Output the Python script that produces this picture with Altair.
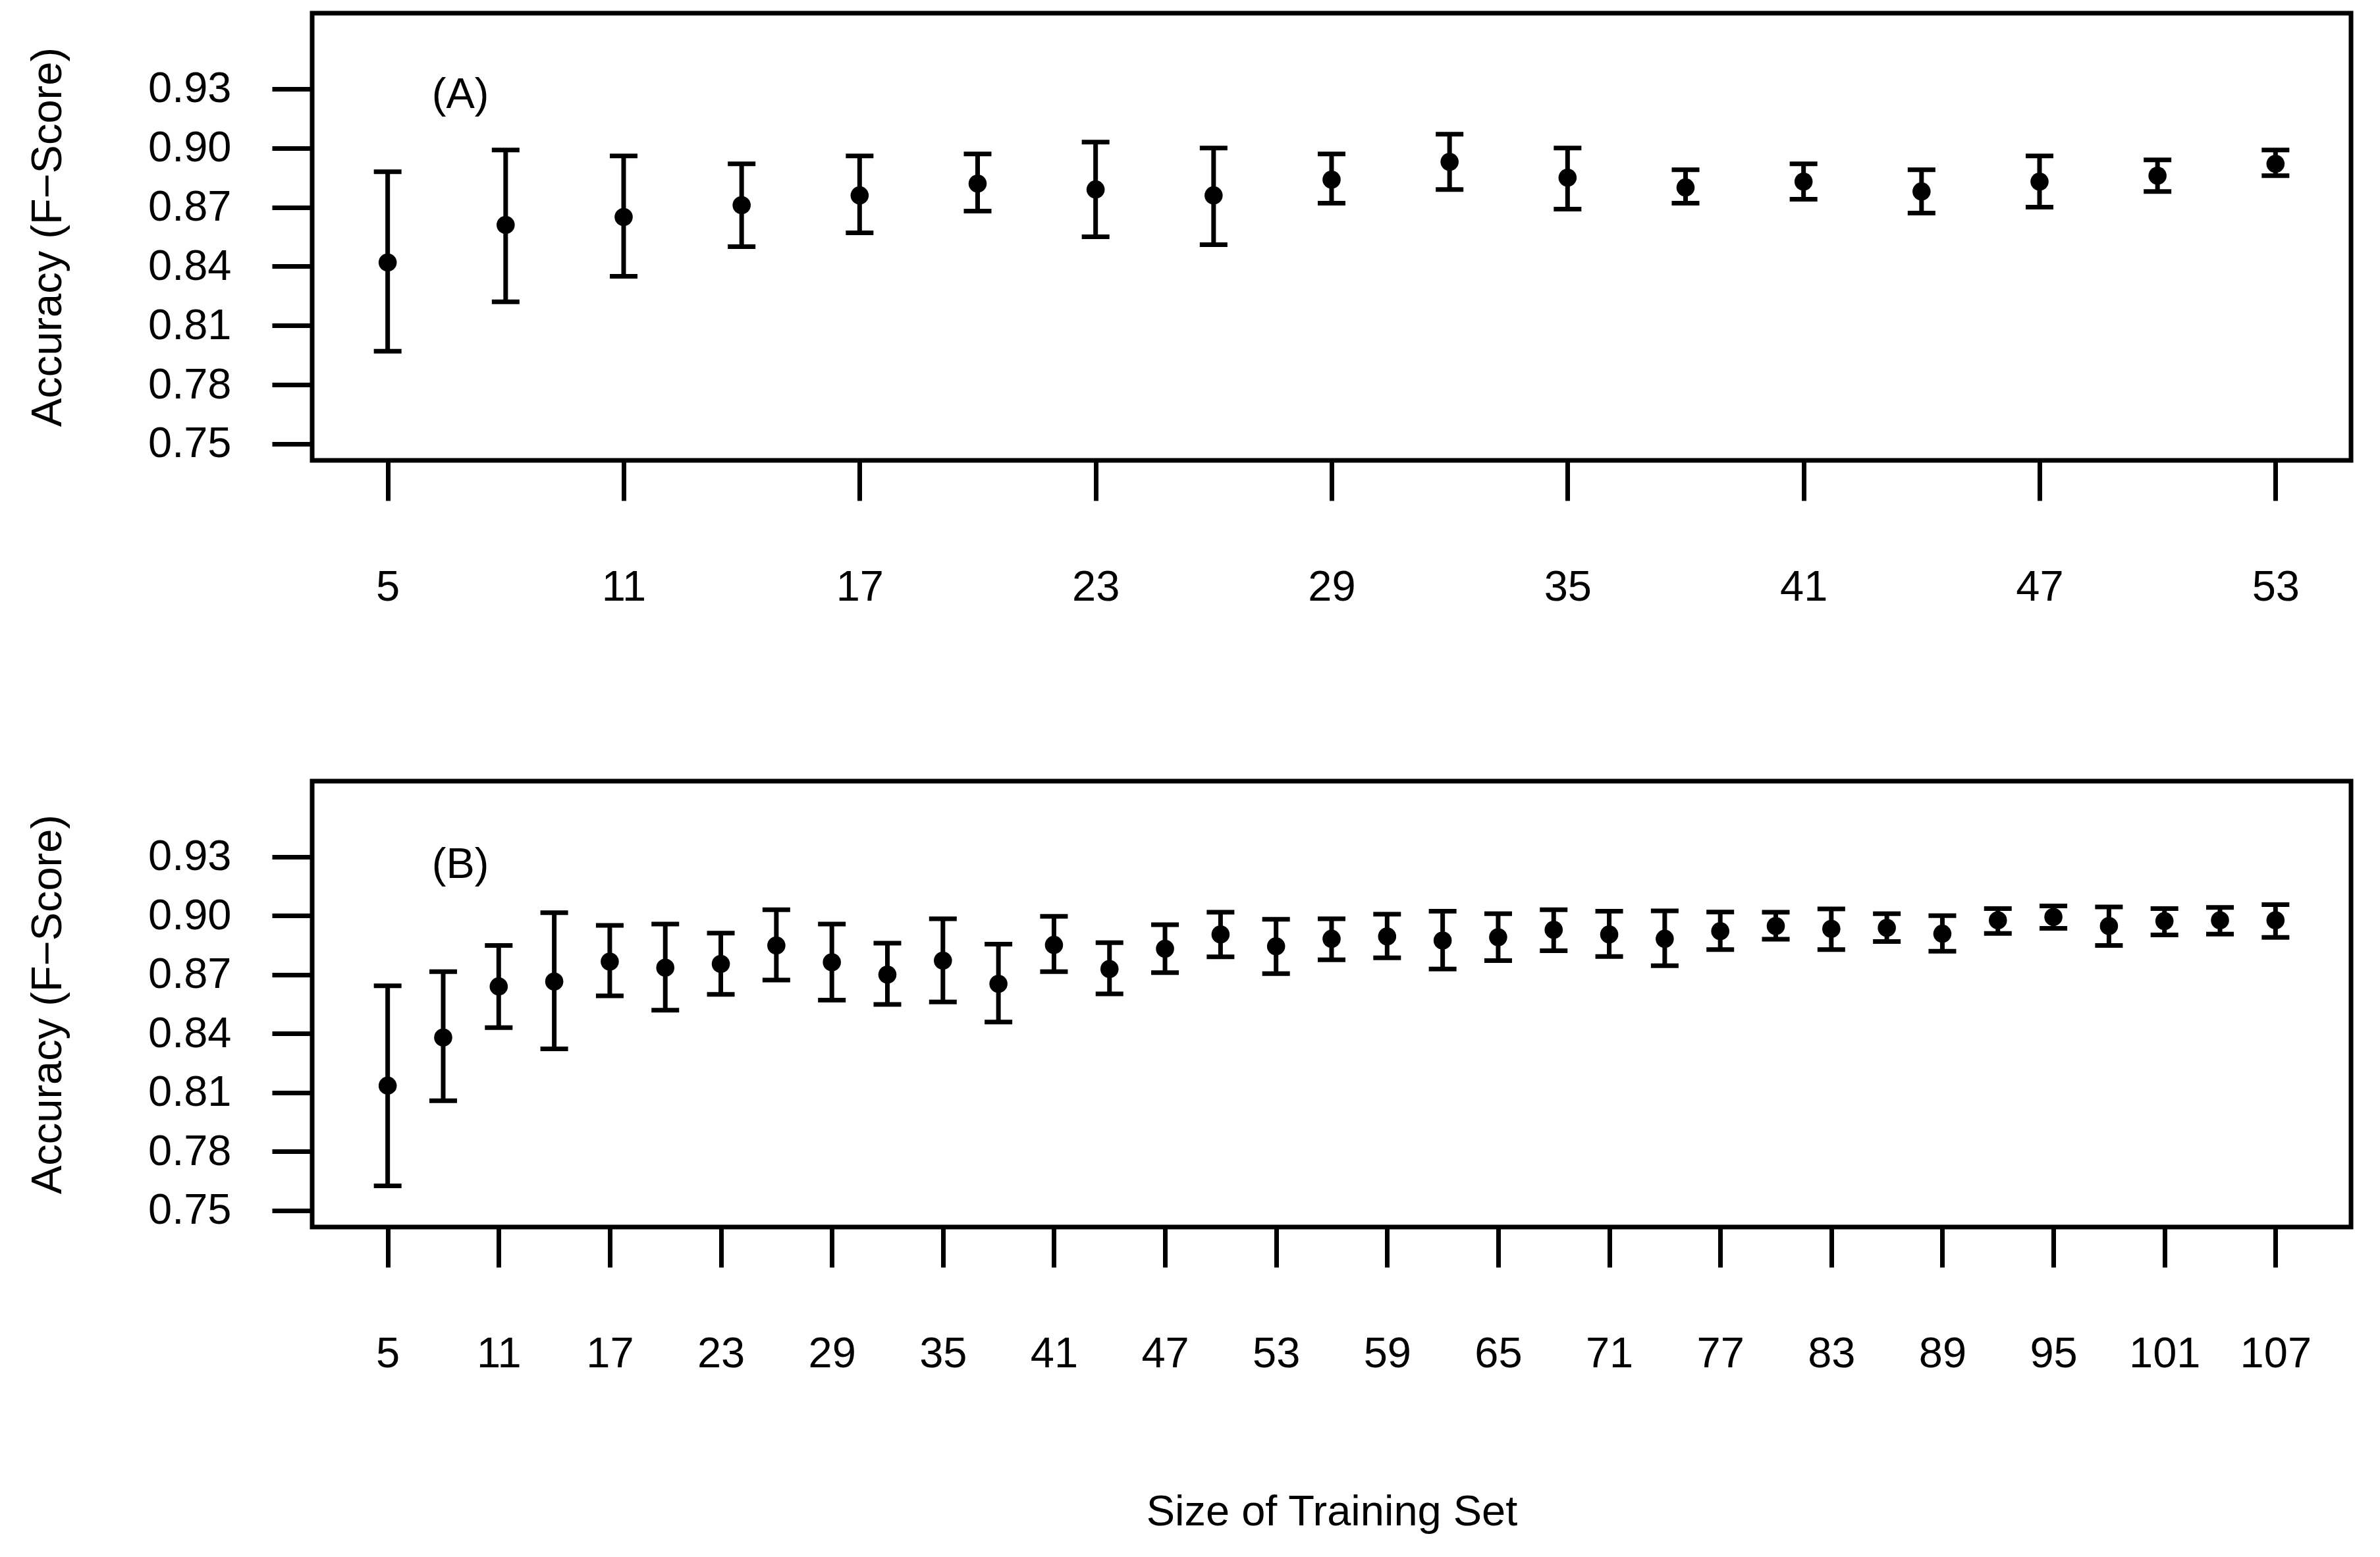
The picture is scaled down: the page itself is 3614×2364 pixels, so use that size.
import altair as alt
import pandas as pd

FONT = "Liberation Sans"

# Panel A
x_a = [5, 8, 11, 14, 17, 20, 23, 26, 29, 32, 35, 38, 41, 44, 47, 50, 53]
mean_a = [0.842, 0.861, 0.865, 0.871, 0.876, 0.882, 0.879, 0.876, 0.884, 0.893,
          0.885, 0.880, 0.883, 0.878, 0.883, 0.886, 0.892]
lo_a = [0.797, 0.822, 0.835, 0.850, 0.857, 0.868, 0.855, 0.851, 0.872, 0.879,
        0.869, 0.872, 0.874, 0.867, 0.870, 0.878, 0.886]
hi_a = [0.888, 0.899, 0.896, 0.892, 0.896, 0.897, 0.903, 0.900, 0.897, 0.907,
        0.900, 0.889, 0.892, 0.889, 0.896, 0.894, 0.899]
ticks_a = [5, 11, 17, 23, 29, 35, 41, 47, 53]

# Panel B
x_b = [5, 8, 11, 14, 17, 20, 23, 26, 29, 32, 35, 38, 41, 44, 47, 50, 53, 56,
       59, 62, 65, 68, 71, 74, 77, 80, 83, 86, 89, 92, 95, 98, 101, 104, 107]
mean_b = [0.8135, 0.838, 0.864, 0.8665, 0.8766, 0.8735, 0.8754, 0.8848, 0.8763,
          0.870, 0.8771, 0.8653, 0.8851, 0.8728, 0.8831, 0.8904, 0.8844, 0.8882,
          0.8894, 0.8873, 0.8890, 0.8928, 0.8904, 0.8882, 0.8921, 0.8947, 0.8933,
          0.8938, 0.8908, 0.8976, 0.8993, 0.8947, 0.8972, 0.8976, 0.8976]
lo_b = [0.7625, 0.8058, 0.843, 0.8322, 0.8592, 0.8519, 0.8599, 0.8672, 0.857,
        0.8548, 0.8561, 0.8459, 0.8715, 0.8602, 0.871, 0.879, 0.8705, 0.8775,
        0.8785, 0.8728, 0.8771, 0.8821, 0.8792, 0.8745, 0.8827, 0.888, 0.8827,
        0.8868, 0.8819, 0.8909, 0.8935, 0.8848, 0.8902, 0.8906, 0.8889]
hi_b = [0.8643, 0.8715, 0.8848, 0.9015, 0.895, 0.8957, 0.8911, 0.903, 0.8957,
        0.886, 0.8984, 0.8855, 0.8996, 0.8862, 0.8954, 0.9017, 0.8981, 0.8984,
        0.9007, 0.9022, 0.901, 0.903, 0.9022, 0.9024, 0.9018, 0.9017, 0.9034,
        0.901, 0.9, 0.9036, 0.9049, 0.9044, 0.9036, 0.9042, 0.9056]
ticks_b = [5, 11, 17, 23, 29, 35, 41, 47, 53, 59, 65, 71, 77, 83, 89, 95, 101, 107]

y_ticks = [0.75, 0.78, 0.81, 0.84, 0.87, 0.90, 0.93]
y_domain = [0.7416, 0.9684]
y_title = "Accuracy (F\u2212Score)"
x_title = "Size of Training Set"

LW = 7


def panel(xs, ms, los, his, xticks, xdomain, label, label_pos, height, show_xtitle):
    df = pd.DataFrame({"x": xs, "m": ms, "lo": los, "hi": his})
    xaxis_kwargs = dict(values=xticks, format="d", labelFlush=False, labelOverlap=False,
                        tickSize=61, tickWidth=LW, tickColor="black", domain=False,
                        grid=False, labelPadding=100, labelFontSize=65, labelFont=FONT,
                        labelColor="black")
    if show_xtitle:
        xaxis = alt.Axis(title=x_title, titleFontSize=65, titleFont=FONT,
                         titleFontWeight="normal", titleColor="black",
                         titleBaseline="top", titleY=401, **xaxis_kwargs)
    else:
        xaxis = alt.Axis(title=None, **xaxis_kwargs)
    yaxis = alt.Axis(values=y_ticks, format=".2f", title=y_title, tickSize=61,
                     tickWidth=LW, tickColor="black", domain=False, grid=False,
                     labelPadding=62, labelFontSize=65, labelFont=FONT,
                     labelColor="black", titleFontSize=65, titleFont=FONT,
                     titleFontWeight="normal", titleColor="black",
                     titleBaseline="middle", titleX=-402)
    xs_scale = alt.Scale(domain=xdomain, nice=False, zero=False)
    ys_scale = alt.Scale(domain=y_domain, nice=False, zero=False)
    base = alt.Chart(df)
    rule = base.mark_rule(color="black", strokeWidth=LW).encode(
        x=alt.X("x:Q", scale=xs_scale, axis=xaxis),
        y=alt.Y("lo:Q", scale=ys_scale, axis=yaxis),
        y2="hi:Q",
    )
    cap_lo = base.mark_tick(color="black", orient="horizontal", size=42,
                            thickness=LW, opacity=1).encode(
        x=alt.X("x:Q", scale=xs_scale, axis=xaxis),
        y=alt.Y("lo:Q", scale=ys_scale, axis=yaxis),
    )
    cap_hi = base.mark_tick(color="black", orient="horizontal", size=42,
                            thickness=LW, opacity=1).encode(
        x=alt.X("x:Q", scale=xs_scale, axis=xaxis),
        y=alt.Y("hi:Q", scale=ys_scale, axis=yaxis),
    )
    pts = base.mark_point(filled=True, color="black", size=760, opacity=1).encode(
        x=alt.X("x:Q", scale=xs_scale, axis=xaxis),
        y=alt.Y("m:Q", scale=ys_scale, axis=yaxis),
    )
    tdf = pd.DataFrame({"x": [label_pos[0]], "y": [label_pos[1]], "t": [label]})
    txt = alt.Chart(tdf).mark_text(font=FONT, fontSize=65, color="black",
                                   align="center", baseline="middle").encode(
        x=alt.X("x:Q", scale=xs_scale, axis=xaxis),
        y=alt.Y("y:Q", scale=ys_scale, axis=yaxis),
        text="t:N",
    )
    return alt.layer(rule, cap_lo, cap_hi, pts, txt).properties(width=3096, height=height)


pa = panel(x_a, mean_a, lo_a, hi_a, ticks_a, [3.08, 54.92], "(A)", (6.85, 0.927), 679, False)
pb = panel(x_b, mean_b, lo_b, hi_b, ticks_b, [0.92, 111.08], "(B)", (8.93, 0.926), 677, True)

chart = alt.vconcat(pa, pb, spacing=254).properties(
    padding={"left": 28, "top": 8, "right": 0, "bottom": 0},
    background="white",
).configure_view(stroke="black", strokeWidth=LW, strokeOpacity=1)

chart.save("out.html", embed_options={"renderer": "svg", "actions": False})
